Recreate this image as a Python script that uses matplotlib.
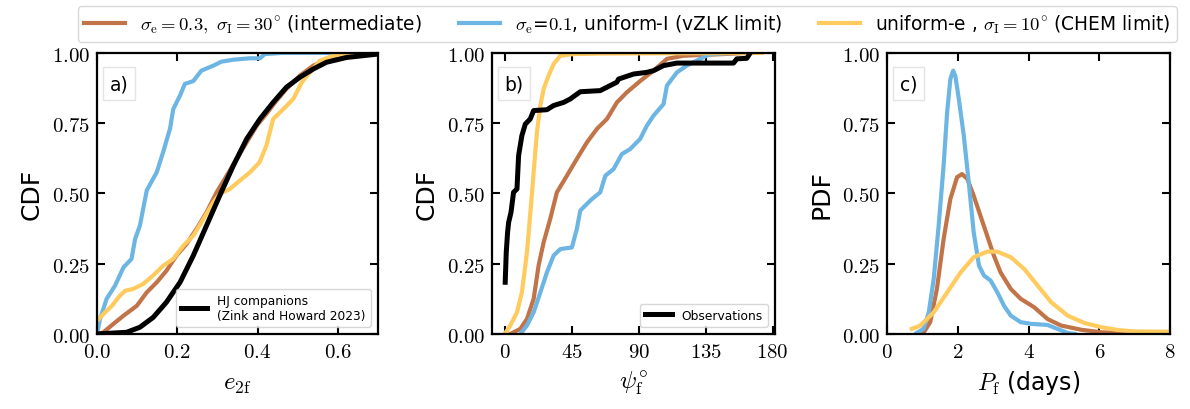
import matplotlib
matplotlib.use("Agg")
import matplotlib.pyplot as plt
from matplotlib.ticker import FuncFormatter

plt.rcParams['mathtext.fontset'] = 'cm'
plt.rcParams['font.family'] = ['DejaVu Sans']

# colours of the three models
c_mid = '#c27449'
c_zlk = '#6db6e3'
c_chem = '#ffcb5e'

# ---- panel a: CDF of e_2f ----
a_zlk_x = [0, 0.0075, 0.024, 0.045, 0.066, 0.086, 0.095, 0.107, 0.124, 0.149, 0.165, 0.182,
           0.19, 0.207, 0.219, 0.24, 0.26, 0.29, 0.31, 0.34, 0.38, 0.406, 0.418, 0.46, 0.7]
a_zlk_y = [0, 0.053, 0.125, 0.172, 0.237, 0.267, 0.338, 0.386, 0.511, 0.576, 0.648, 0.731,
           0.80, 0.849, 0.89, 0.90, 0.937, 0.955, 0.969, 0.976, 0.981, 0.981, 0.996, 1.0, 1.0]
a_mid_x = [0, 0.016, 0.041, 0.066, 0.099, 0.124, 0.149, 0.173, 0.198, 0.223, 0.248, 0.273,
           0.298, 0.323, 0.348, 0.373, 0.398, 0.422, 0.447, 0.472, 0.505, 0.539, 0.572, 0.622, 0.7]
a_mid_y = [0, 0.006, 0.036, 0.065, 0.10, 0.148, 0.184, 0.225, 0.279, 0.320, 0.374, 0.433,
           0.504, 0.563, 0.623, 0.682, 0.741, 0.783, 0.83, 0.872, 0.919, 0.955, 0.976, 0.99, 0.998]
a_chem_x = [0, 0.016, 0.037, 0.057, 0.07, 0.09, 0.115, 0.14, 0.165, 0.19, 0.215, 0.24, 0.265,
            0.29, 0.306, 0.331, 0.356, 0.381, 0.405, 0.422, 0.439, 0.464, 0.489, 0.51, 0.53,
            0.555, 0.588, 0.638, 0.7]
a_chem_y = [0.047, 0.071, 0.10, 0.136, 0.154, 0.16, 0.178, 0.208, 0.243, 0.267, 0.314, 0.35,
            0.409, 0.469, 0.498, 0.516, 0.546, 0.575, 0.611, 0.67, 0.765, 0.80, 0.836, 0.895,
            0.93, 0.972, 0.99, 1.0, 1.0]
a_obs_x = [0, 0.074, 0.107, 0.14, 0.173, 0.207, 0.24, 0.273, 0.306, 0.34, 0.373, 0.406, 0.439,
           0.472, 0.505, 0.539, 0.572, 0.622, 0.7]
a_obs_y = [0, 0.006, 0.024, 0.059, 0.113, 0.184, 0.279, 0.386, 0.493, 0.60, 0.694, 0.765,
           0.824, 0.878, 0.913, 0.943, 0.967, 0.984, 0.996]

# ---- panel b: CDF of psi_f ----
b_zlk_x = [10.5, 15, 19.5, 24, 28.4, 32.9, 37.4, 45.2, 48.5, 50.8, 55.3, 58.6, 64.2, 67.6,
           73.2, 78.7, 84.3, 91, 95.5, 100, 106.7, 109, 115.7, 122.4, 131.3, 138, 153.7]
b_zlk_y = [0, 0.03, 0.077, 0.148, 0.219, 0.279, 0.302, 0.308, 0.374, 0.439, 0.463, 0.48,
           0.504, 0.563, 0.587, 0.64, 0.658, 0.694, 0.741, 0.777, 0.818, 0.884, 0.931, 0.955,
           0.979, 0.996, 1.0]
b_mid_x = [3.8, 10.5, 15, 19.5, 22.8, 26.2, 30.6, 35.1, 41.8, 48.5, 55.3, 62, 68.7, 75.4,
           82.1, 91, 100, 109, 120, 142.5, 162.6]
b_mid_y = [0, 0.018, 0.053, 0.125, 0.243, 0.326, 0.409, 0.504, 0.563, 0.623, 0.682, 0.73,
           0.765, 0.824, 0.86, 0.90, 0.937, 0.979, 0.99, 0.995, 1.0]
b_chem_x = [0, 3.8, 8.3, 11.6, 15, 17.7, 19.5, 21.7, 24, 26.2, 29.5, 32.9, 37.4, 46.3, 64, 172.7]
b_chem_y = [0, 0.03, 0.077, 0.148, 0.29, 0.457, 0.575, 0.718, 0.813, 0.872, 0.919, 0.961,
            0.99, 0.996, 0.998, 1.0]
b_obs_x = [0.4, 1.1, 2, 2.7, 4.3, 6, 8.3, 9.4, 11.6, 13.9, 17.2, 19.5, 28.4, 32.9, 39.6, 44,
           50.8, 64.2, 70.9, 75.4, 76.5, 86.6, 95.5, 100, 106.7, 115.7, 124.6, 153.7, 155.9,
           162.6, 164.9]
b_obs_y = [0.184, 0.29, 0.362, 0.397, 0.433, 0.504, 0.516, 0.635, 0.706, 0.747, 0.765, 0.795,
           0.798, 0.813, 0.824, 0.836, 0.862, 0.866, 0.884, 0.896, 0.907, 0.925, 0.931, 0.937,
           0.955, 0.964, 0.964, 0.964, 0.979, 0.981, 1.0]

# ---- panel c: PDF of P_f ----
c_zlk_x = [0.84, 1.03, 1.18, 1.32, 1.46, 1.6, 1.7, 1.79, 1.87, 1.93, 2.03, 2.17, 2.31, 2.45,
           2.6, 2.74, 2.93, 3.12, 3.31, 3.5, 3.78, 4.07, 4.54, 4.82, 5.1, 5.3]
c_zlk_y = [0.004, 0.018, 0.077, 0.196, 0.386, 0.60, 0.79, 0.907, 0.937, 0.919, 0.836, 0.706,
           0.54, 0.362, 0.243, 0.208, 0.19, 0.148, 0.10, 0.065, 0.042, 0.036, 0.032, 0.018,
           0.004, 0]
c_mid_x = [1.03, 1.22, 1.41, 1.6, 1.79, 1.98, 2.12, 2.27, 2.45, 2.64, 2.83, 3.02, 3.21, 3.5,
           3.78, 4.16, 4.54, 4.92, 5.49, 6.06, 7.0, 8.0]
c_mid_y = [0.004, 0.042, 0.160, 0.338, 0.48, 0.558, 0.569, 0.552, 0.492, 0.421, 0.35, 0.279,
           0.219, 0.16, 0.125, 0.095, 0.053, 0.03, 0.015, 0.006, 0.002, 0]
c_chem_x = [0.7, 0.94, 1.32, 1.7, 2.08, 2.45, 2.83, 3.12, 3.5, 3.88, 4.26, 4.64, 5.11, 5.58,
            6.06, 6.53, 7.0, 8.0]
c_chem_y = [0.018, 0.03, 0.077, 0.148, 0.219, 0.273, 0.293, 0.293, 0.273, 0.231, 0.172, 0.113,
            0.065, 0.039, 0.024, 0.014, 0.009, 0.008]

lab_mid = r'$\sigma_{\rm e}=0.3,\ \sigma_{\rm I}=30^{\circ}$ (intermediate)'
lab_zlk = r'$\sigma_{\rm e}$=$0.1$, uniform-I (vZLK limit)'
lab_chem = r'uniform-e , $\sigma_{\rm I}=10^{\circ}$ (CHEM limit)'

lw = 3.0
fig = plt.figure(figsize=(11.9, 4.1), dpi=100)
ax_a = fig.add_axes([0.0815, 0.183, 0.2361, 0.6854])
ax_b = fig.add_axes([0.4134, 0.183, 0.2378, 0.6854])
ax_c = fig.add_axes([0.7454, 0.183, 0.2378, 0.6854])

def mathfmt(fmt):
    return FuncFormatter(lambda v, p: '$' + (fmt % v) + '$')

def style(ax, letter):
    for s in ax.spines.values():
        s.set_linewidth(1.6)
    ax.tick_params(direction='in', top=True, right=True, length=6, width=1.5,
                   labelsize=15, pad=5)
    ax.set_ylim(0, 1)
    ax.set_yticks([0, 0.25, 0.5, 0.75, 1.0])
    ax.yaxis.set_major_formatter(mathfmt('%.2f'))
    ax.text(0.045, 0.925, letter, transform=ax.transAxes, fontsize=13.5, va='top', ha='left',
            bbox=dict(boxstyle='square,pad=0.35', fc='white', ec='#e4e4e4', lw=1))

# panel a
ax_a.plot(a_mid_x, a_mid_y, color=c_mid, lw=lw)
ax_a.plot(a_zlk_x, a_zlk_y, color=c_zlk, lw=lw)
ax_a.plot(a_chem_x, a_chem_y, color=c_chem, lw=lw)
ax_a.plot(a_obs_x, a_obs_y, color='black', lw=lw + 0.6,
          label='HJ companions\n(Zink and Howard 2023)')
ax_a.set_xlim(0, 0.7)
ax_a.set_xticks([0, 0.2, 0.4, 0.6])
ax_a.xaxis.set_major_formatter(mathfmt('%.1f'))
ax_a.set_xlabel(r'$e_{\rm 2f}$', fontsize=18, labelpad=7)
ax_a.set_ylabel('CDF', fontsize=18, labelpad=6)
ax_a.legend(loc='lower right', fontsize=8.8, handlelength=2.2, borderaxespad=0.6)
style(ax_a, 'a)')

# panel b
ax_b.plot(b_mid_x, b_mid_y, color=c_mid, lw=lw)
ax_b.plot(b_zlk_x, b_zlk_y, color=c_zlk, lw=lw)
ax_b.plot(b_chem_x, b_chem_y, color=c_chem, lw=lw)
ax_b.plot(b_obs_x, b_obs_y, color='black', lw=lw + 0.6, label='Observations')
ax_b.set_xlim(-8.5, 181.5)
ax_b.set_xticks([0, 45, 90, 135, 180])
ax_b.xaxis.set_major_formatter(mathfmt('%d'))
ax_b.set_xlabel(r'$\psi_{\rm f}^{\circ}$', fontsize=18, labelpad=5)
ax_b.set_ylabel('CDF', fontsize=18, labelpad=6)
ax_b.legend(loc='lower right', fontsize=8.8, handlelength=2.2, borderaxespad=0.6)
style(ax_b, 'b)')

# panel c
l1, = ax_c.plot(c_mid_x, c_mid_y, color=c_mid, lw=lw)
l2, = ax_c.plot(c_zlk_x, c_zlk_y, color=c_zlk, lw=lw)
l3, = ax_c.plot(c_chem_x, c_chem_y, color=c_chem, lw=lw)
ax_c.set_xlim(0, 8)
ax_c.set_xticks([0, 2, 4, 6, 8])
ax_c.xaxis.set_major_formatter(mathfmt('%d'))
ax_c.set_xlabel(r'$P_{\rm f}$ (days)', fontsize=17, labelpad=5)
ax_c.set_ylabel('PDF', fontsize=18, labelpad=6)
style(ax_c, 'c)')

fig.legend([l1, l2, l3], [lab_mid, lab_zlk, lab_chem], loc='upper center',
           bbox_to_anchor=(0.527, 1.005), ncol=3, fontsize=13.4, handlelength=2.2,
           columnspacing=2.0, edgecolor='#d0d0d0', borderpad=0.35)

fig.savefig('out.png', dpi=100)
